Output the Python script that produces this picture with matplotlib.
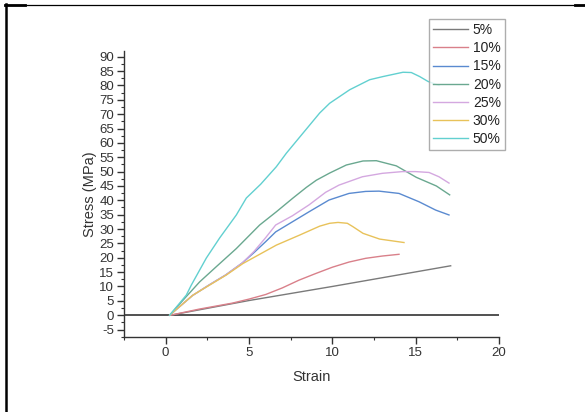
import matplotlib
matplotlib.use("Agg")
import matplotlib.pyplot as plt
from matplotlib.lines import Line2D
from matplotlib.ticker import MultipleLocator

plt.rcParams['font.family'] = ['Liberation Sans', 'DejaVu Sans']
plt.rcParams['axes.unicode_minus'] = False

labels = ['5%', '10%', '15%', '20%', '25%', '30%', '50%']
colors = ['#7a7a7a', '#d9808a', '#5a8ad0', '#6aa890', '#d4a8e0', '#e8c25a', '#62d0d0']

s5_x = [0.3, 5.0, 10.0, 17.1]
s5_y = [0.0, 5.1, 10.0, 17.2]

s10_x = [0.3, 2.0, 4.0, 5.0, 6.0, 7.0, 8.0, 9.0, 10.0, 11.0, 12.0, 13.0, 14.0]
s10_y = [0.0, 2.1, 4.2, 5.6, 7.2, 9.5, 12.2, 14.5, 16.7, 18.5, 19.8, 20.6, 21.2]

s15_x = [0.24, 1.6, 2.6, 3.6, 4.6, 5.3, 6.0, 6.6, 7.6, 8.6, 9.8, 11.0, 12.0, 12.8, 14.0, 15.2, 16.2, 17.0]
s15_y = [0.0, 6.8, 10.5, 14.0, 18.2, 21.8, 25.6, 29.0, 32.5, 36.0, 40.1, 42.4, 43.1, 43.2, 42.4, 39.5, 36.6, 34.9]

s20_x = [0.24, 1.24, 2.04, 3.04, 4.24, 5.64, 6.64, 7.64, 8.44, 9.04, 9.84, 10.84, 11.84, 12.64, 13.84, 15.04, 16.24, 17.04]
s20_y = [0.0, 6.5, 11.6, 16.9, 23.2, 31.4, 36.0, 40.8, 44.5, 47.0, 49.5, 52.3, 53.7, 53.8, 52.0, 48.0, 45.0, 41.9]

s25_x = [0.24, 1.6, 2.6, 3.6, 4.6, 5.3, 6.0, 6.6, 7.6, 8.6, 9.6, 10.4, 11.8, 13.0, 14.2, 15.0, 15.8, 16.4, 17.0]
s25_y = [0.0, 6.8, 10.5, 14.0, 18.2, 22.2, 27.0, 31.4, 34.6, 38.4, 42.8, 45.3, 48.2, 49.4, 50.0, 50.0, 49.7, 48.2, 46.0]

s30_x = [0.24, 1.64, 3.64, 4.64, 6.64, 8.04, 9.24, 9.84, 10.34, 10.9, 11.24, 11.84, 12.84, 14.3]
s30_y = [0.0, 7.0, 14.0, 18.0, 24.4, 27.9, 31.0, 32.0, 32.3, 32.0, 30.8, 28.5, 26.5, 25.3]

s50_x = [0.24, 1.24, 1.54, 2.44, 3.24, 4.24, 4.84, 5.7, 6.64, 7.24, 8.24, 9.24, 9.84, 11.04, 12.24, 13.04, 14.24, 14.74, 15.24, 15.74, 16.4]
s50_y = [0.0, 7.0, 10.5, 19.9, 26.9, 34.9, 40.8, 45.6, 51.7, 56.4, 63.4, 70.4, 73.8, 78.5, 82.0, 83.1, 84.6, 84.5, 83.1, 81.4, 80.0]

series_x = [s5_x, s10_x, s15_x, s20_x, s25_x, s30_x, s50_x]
series_y = [s5_y, s10_y, s15_y, s20_y, s25_y, s30_y, s50_y]

fig = plt.figure(figsize=(5.85, 4.12), dpi=100)
ax = fig.add_axes([124/585, 1-337/412, (499-124)/585, (337-51)/412])

for xs, ys, c, lab in zip(series_x, series_y, colors, labels):
    ax.plot(xs, ys, color=c, lw=1.0, label=lab)

ax.axhline(0, color='#333333', lw=1.2, zorder=1)

ax.set_xlim(-2.5, 20)
ax.set_ylim(-7.6, 92)
ax.set_xticks([0, 5, 10, 15, 20])
ax.set_yticks(list(range(-5, 95, 5)))
ax.xaxis.set_minor_locator(MultipleLocator(2.5))
ax.yaxis.set_minor_locator(MultipleLocator(2.5))
for s in ['top', 'right']:
    ax.spines[s].set_visible(False)
for s in ['left', 'bottom']:
    ax.spines[s].set_color('#333333')
    ax.spines[s].set_linewidth(1.0)
ax.tick_params(axis='both', which='major', direction='out', length=5, width=1.0,
               color='#333333', labelsize=9.5, labelcolor='#333333', pad=2)
ax.tick_params(axis='both', which='minor', direction='out', length=2.5, width=0.8, color='#333333')

ax.set_xlabel('Strain', fontsize=10.5, color='#333333', labelpad=8)
ax.set_ylabel('Stress (MPa)', fontsize=10.5, color='#333333', labelpad=2)

leg = fig.legend(loc='upper right', bbox_to_anchor=(505/585, 1-19/412), fontsize=10,
                 frameon=True, fancybox=False, borderpad=0.3, labelspacing=0.3,
                 handlelength=2.5, handletextpad=0.35, borderaxespad=0)
leg.get_frame().set_edgecolor('#999999')
leg.get_frame().set_linewidth(1.0)
for t in leg.get_texts():
    t.set_color('#222222')

# page frame lines
fig.add_artist(Line2D([6/585, 6/585], [0, 1-4/412], transform=fig.transFigure, color='black', lw=1.8))
fig.add_artist(Line2D([5/585, 1], [1-4.5/412, 1-4.5/412], transform=fig.transFigure, color='black', lw=0.9))
fig.add_artist(Line2D([5/585, 25/585], [1-5/412, 1-5/412], transform=fig.transFigure, color='black', lw=2))
fig.add_artist(Line2D([575/585, 1], [1-5/412, 1-5/412], transform=fig.transFigure, color='black', lw=2))

fig.savefig('out.png', dpi=100)
